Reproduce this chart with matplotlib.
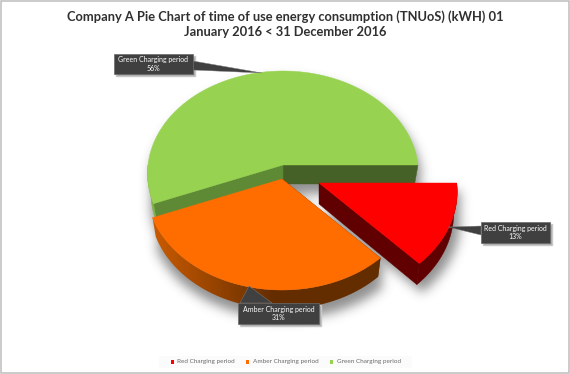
import numpy as np
import matplotlib
matplotlib.use("Agg")
import matplotlib.pyplot as plt
from matplotlib.patches import Polygon, Rectangle
from matplotlib.path import Path
from matplotlib.colors import LinearSegmentedColormap

categories = ["Red Charging period", "Amber Charging period", "Green Charging period"]
shares = [13, 31, 56]
title_lines = ["Company A Pie Chart of time of use energy consumption (TNUoS) (kWH) 01",
               "January 2016 < 31 December 2016"]

# styles
top_colors = {"Red": "#ff0000", "Amber": "#ff6d00", "Green": "#97d350"}
FONT = "Lato"
W, H = 570, 374
CX, CY, RX, RY, K, DEPTH, SHRINK = 283, 165, 135, 101.8, 0.083, 19, 0.975
offsets = {"Green": (0, 0, 1.0), "Amber": (-1, 14, 1.0), "Red": (36, 18, 1.02)}

fig = plt.figure(figsize=(W/100, H/100), dpi=100)
ax = fig.add_axes([0, 0, 1, 1])
ax.axis("off")


def project(theta, r, off, lower=False, depth=DEPTH):
    """theta in degrees counter-clockwise from east; perspective disc projection."""
    t = np.radians(theta)
    u, v = r*np.cos(t), -r*np.sin(t)
    d = 1 - K*v
    sx = SHRINK if lower else 1.0
    dy = depth if lower else 0
    return CX + off[0] + sx*off[2]*RX*u/d, CY + off[1] + off[2]*RY*v/d + dy


# angular extents derived from the shares: green from east counter-clockwise
total = sum(shares)
green_end = 360*shares[2]/total
amber_end = green_end + 360*shares[1]/total
spans = {"Green": (0, green_end), "Amber": (green_end, amber_end), "Red": (amber_end, 360)}


def top_poly(name):
    a, b = spans[name]
    off = offsets[name]
    x, y = project(np.linspace(a, b, 200), 1, off)
    x0, y0 = project(0, 0, off)
    return np.column_stack([np.r_[x0, x], np.r_[y0, y]])


def rim_poly(name, a, b, depth=DEPTH):
    off = offsets[name]
    th = np.linspace(a, b, 120)
    x, y = project(th, 1, off)
    x2, y2 = project(th, 1, off, True, depth)
    return np.column_stack([np.r_[x, x2[::-1]], np.r_[y, y2[::-1]]])


def flat_poly(name, theta, depth=DEPTH):
    off = offsets[name]
    x0, y0 = project(0, 0, off)
    x1, y1 = project(theta, 1, off)
    x2, y2 = project(theta, 1, off, True, depth)
    return np.array([(x0, y0), (x1, y1), (x2, y2), (x0, y0+depth)])


# soft shadow: blurred mask of the slices' silhouettes
gx, gy = np.meshgrid(np.arange(W)+0.5, np.arange(H)+0.5)
grid = np.column_stack([gx.ravel(), gy.ravel()])
mask = np.zeros((H, W))
for name in ["Green", "Amber", "Red"]:
    a, b = spans[name]
    d = DEPTH + 2
    for poly in (top_poly(name), rim_poly(name, a, b, d), top_poly(name) + [0, d]):
        mask = np.maximum(mask, Path(poly + [3, 8]).contains_points(grid).reshape(H, W).astype(float))
kernel = np.exp(-0.5*(np.arange(-16, 17)/5.5)**2)
kernel /= kernel.sum()
for axis in (0, 1):
    mask = np.apply_along_axis(lambda m: np.convolve(m, kernel, mode="same"), axis, mask)
rgba = np.zeros((H, W, 4))
rgba[..., :3] = 0.3
rgba[..., 3] = mask*0.62
ax.imshow(rgba, extent=(0, W, H, 0), aspect="auto", zorder=1, interpolation="bilinear")


def solid(poly, color, z):
    ax.add_patch(Polygon(poly, closed=True, fc=color, ec=color, lw=0.3, zorder=z))


def gradient_rim(name, a, b, c_start, c_end, x_start, x_end, z, depth=DEPTH):
    poly = rim_poly(name, a, b, depth)
    cmap = LinearSegmentedColormap.from_list("rim", [c_start, c_end])
    im = ax.imshow(np.linspace(0, 1, 256)[None, :], cmap=cmap, extent=(x_start, x_end, H, 0),
                   aspect="auto", zorder=z)
    ramp_left = ax.imshow([[0]], cmap=cmap, vmin=0, vmax=1, extent=(0, x_start, H, 0), aspect="auto", zorder=z)
    ramp_right = ax.imshow([[1]], cmap=cmap, vmin=0, vmax=1, extent=(x_end, W, H, 0), aspect="auto", zorder=z)
    patch = Polygon(poly, closed=True, transform=ax.transData, fc="none", ec="none")
    ax.add_patch(patch)
    for i in (im, ramp_left, ramp_right):
        i.set_clip_path(patch)


# green slice
solid(flat_poly("Green", 0), "#466127", 2)
solid(flat_poly("Green", green_end), "#5f8a35", 2)
solid(rim_poly("Green", 180, green_end), "#7fb245", 2)
solid(top_poly("Green"), top_colors["Green"], 3)
# amber slice
gradient_rim("Amber", green_end, amber_end, "#c85a00", "#642d00", 155, 275, 4)
solid(flat_poly("Amber", amber_end), "#642d00", 4)
solid(top_poly("Amber"), top_colors["Amber"], 5)
# red slice
solid(flat_poly("Red", amber_end, DEPTH+2), "#600000", 6)
solid(rim_poly("Red", amber_end, 360, DEPTH+2), "#600000", 6)
solid(top_poly("Red"), top_colors["Red"], 7)


# callouts
def callout(box, base, tip, lines):
    x0, y0, x1, y1 = box
    ax.add_patch(Rectangle((x0+1.5, y0+1.5), x1-x0, y1-y0, fc="#a8a8a8", ec="#c8c8c8", lw=1, zorder=8))
    ax.add_patch(Polygon([base[0], tip, base[1]], closed=True, fc="#404040", ec="#808080", lw=0.3, zorder=9))
    ax.add_patch(Rectangle((x0, y0), x1-x0, y1-y0, fc="#404040", ec="#6a6a6a", lw=0.5, zorder=9))
    ax.text((x0+x1)/2, (y0+y1)/2, lines, color="white", fontsize=5.0, family=FONT, ha="center",
            va="center", linespacing=1.25, zorder=10)


pct = {c.split()[0]: s for c, s in zip(categories, shares)}
callout((114, 54, 193, 74), ((193, 61), (193, 70)), (262, 73), f"{categories[2]}\n{pct['Green']}%")
callout((481, 222, 550, 243), ((481, 226), (481, 235)), (448, 227), f"{categories[0]}\n{pct['Red']}%")
callout((238, 303, 319, 324), ((240, 303), (272, 303)), (249, 286), f"{categories[1]}\n{pct['Amber']}%")

# title
for ln, y in zip(title_lines, (17, 32)):
    ax.text(285, y, ln, ha="center", va="center", fontsize=9.25, fontweight="bold", family=FONT, color="#303030")

# legend
ax.add_patch(Rectangle((159, 356), 253, 12, fc="#fbfbfb", ec="none", zorder=1))
for cat, sx, tx in zip(categories, (172, 247, 331), (177, 253, 337)):
    ax.add_patch(Rectangle((sx-1.5, 360), 3.5, 3.5, fc=top_colors[cat.split()[0]], ec="none", zorder=2))
    ax.text(tx, 362, cat, fontsize=4.6, family=FONT, color="#6a6a6a", va="center", ha="left", zorder=2)

# frame
ax.add_patch(Rectangle((0.5, 0.5), 568.5, 372.2, fc="none", ec="#bdbdbd", lw=1.1, zorder=20))

ax.set_xlim(0, W); ax.set_ylim(H, 0)
fig.savefig("out.png", dpi=100)
